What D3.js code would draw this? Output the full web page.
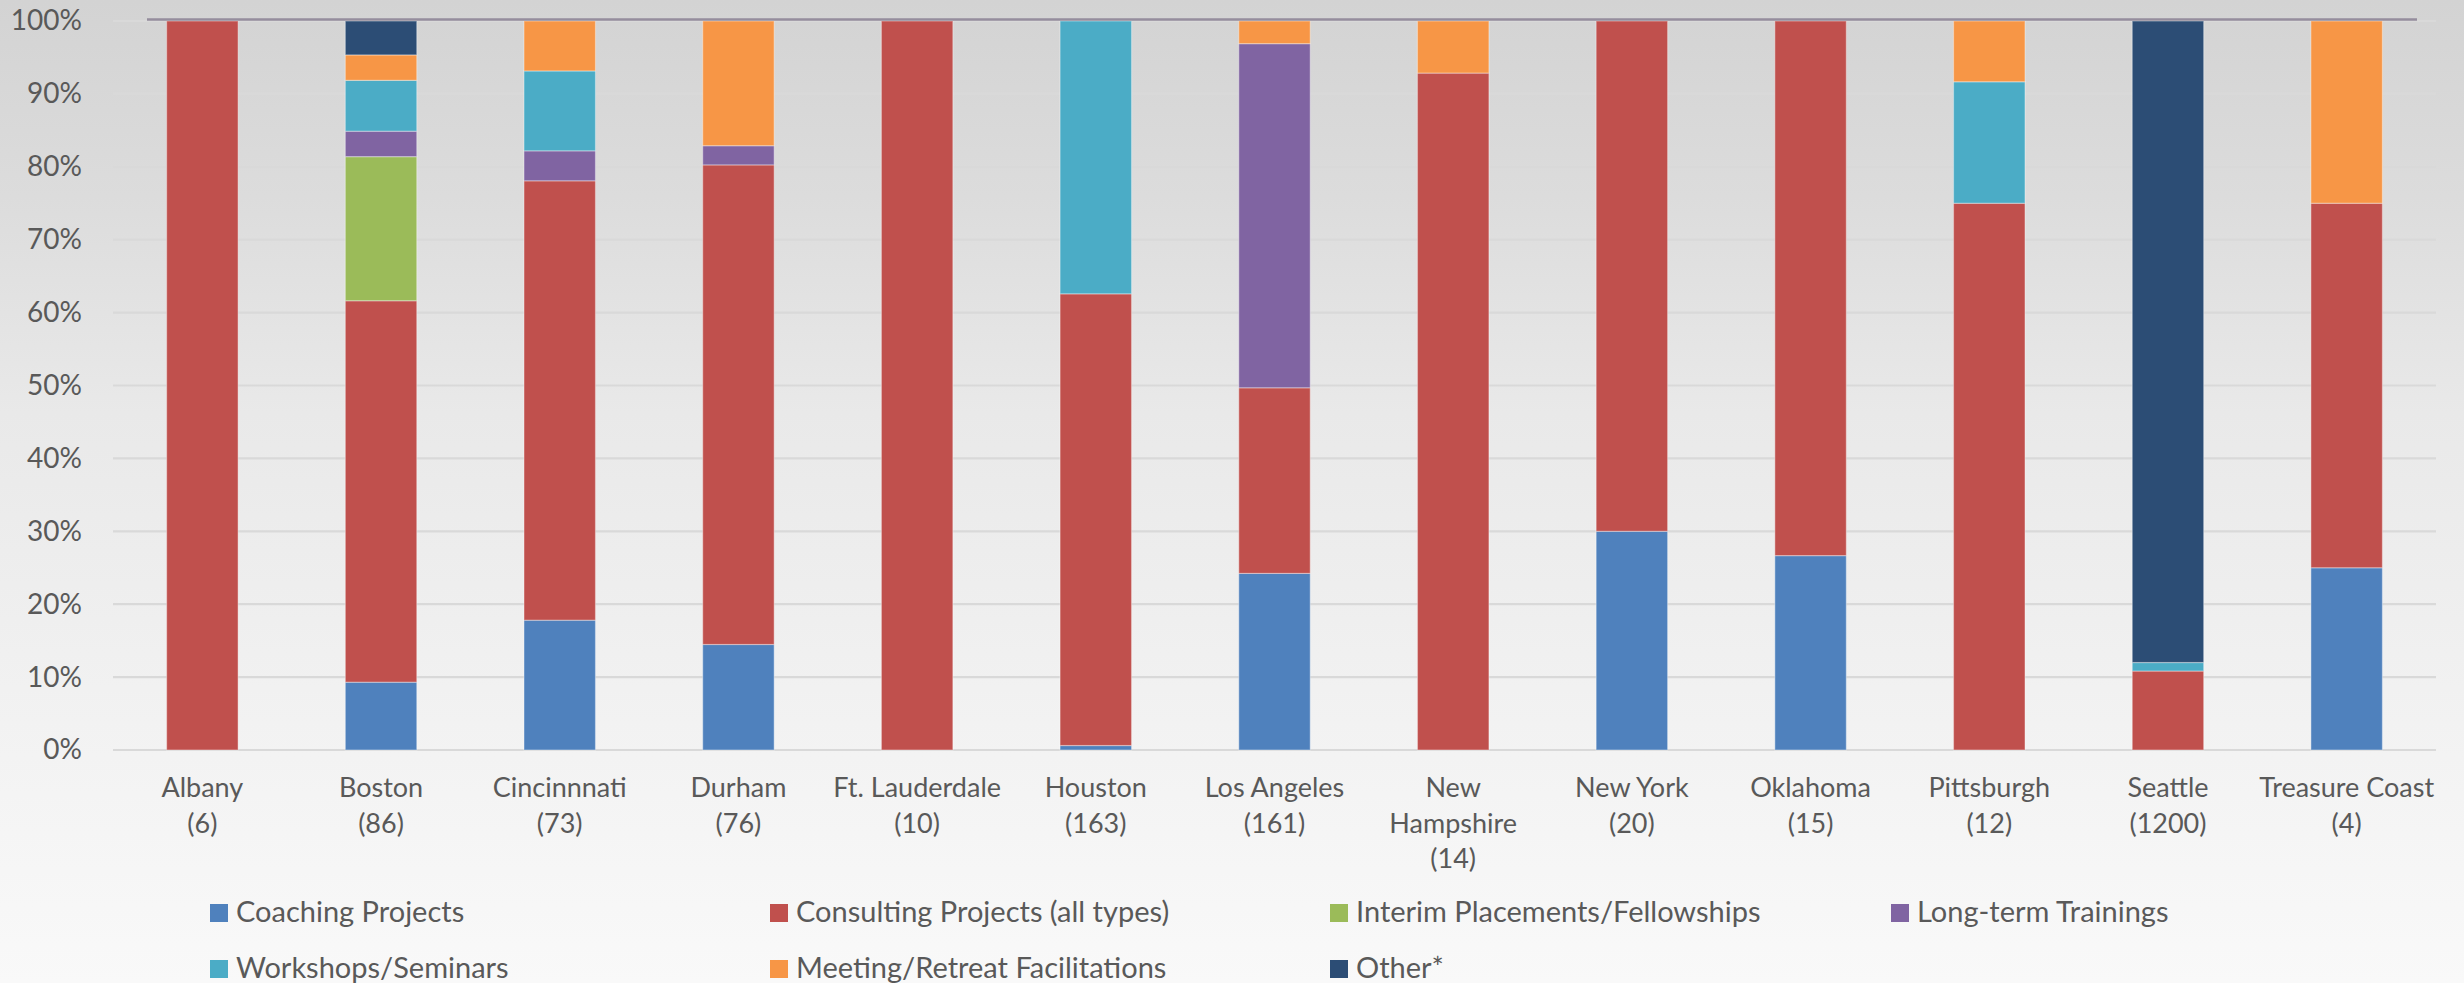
<!DOCTYPE html>
<html>
<head>
<meta charset="utf-8">
<script src="https://cdn.jsdelivr.net/npm/d3@7"></script>
<style>
  html, body { margin: 0; padding: 0; background: #f8f8f8; }
  svg { display: block; }
  text { font-family: Lato, "Open Sans", sans-serif; fill: #595959; }
</style>
</head>
<body>
<svg id="chart" width="2464" height="983"></svg>
<script>
// Offices and the number of engagements at each
const categories = ["Albany", "Boston", "Cincinnnati", "Durham", "Ft. Lauderdale", "Houston",
  "Los Angeles", "New Hampshire", "New York", "Oklahoma", "Pittsburgh", "Seattle", "Treasure Coast"];
const categoryLines = [["Albany"], ["Boston"], ["Cincinnnati"], ["Durham"], ["Ft. Lauderdale"], ["Houston"],
  ["Los Angeles"], ["New", "Hampshire"], ["New York"], ["Oklahoma"], ["Pittsburgh"], ["Seattle"], ["Treasure Coast"]];
const totals = [6, 86, 73, 76, 10, 163, 161, 14, 20, 15, 12, 1200, 4];

// Engagement counts per service type, one value per office
const coaching   = [0, 8, 13, 11, 0, 1, 39, 0, 6, 4, 0, 0, 1];
const consulting = [6, 45, 44, 50, 10, 101, 41, 13, 14, 11, 9, 130, 2];
const interim    = [0, 17, 0, 0, 0, 0, 0, 0, 0, 0, 0, 0, 0];
const longTerm   = [0, 3, 3, 2, 0, 0, 76, 0, 0, 0, 0, 0, 0];
const workshops  = [0, 6, 8, 0, 0, 61, 0, 0, 0, 0, 2, 14, 0];
const meetings   = [0, 3, 5, 13, 0, 0, 5, 1, 0, 0, 1, 0, 1];
const other      = [0, 4, 0, 0, 0, 0, 0, 0, 0, 0, 0, 1056, 0];

const seriesNames = ["Coaching Projects", "Consulting Projects (all types)", "Interim Placements/Fellowships",
  "Long-term Trainings", "Workshops/Seminars", "Meeting/Retreat Facilitations", "Other*"];
const seriesValues = [coaching, consulting, interim, longTerm, workshops, meetings, other];
const seriesColors = ["#4f81bd", "#c0504d", "#9bbb59", "#8064a2", "#4bacc6", "#f79646", "#2c4d75"];

const yTicks = [0, 0.1, 0.2, 0.3, 0.4, 0.5, 0.6, 0.7, 0.8, 0.9, 1];

// Rows for the stack layout
const rows = categories.map((c, i) => {
  const r = { category: c };
  seriesNames.forEach((s, k) => { r[s] = seriesValues[k][i]; });
  return r;
});

const svg = d3.select("#chart");
const W = 2464, H = 983;
const plot = { left: 113, right: 2436, top: 21, bottom: 750 };

// Background gradient
const defs = svg.append("defs");
const grad = defs.append("linearGradient").attr("id", "bg").attr("x1", 0).attr("y1", 0).attr("x2", 0).attr("y2", 1);
[[0, "#d3d3d3"], [0.2, "#dcdcdc"], [0.42, "#e9e9e9"], [0.77, "#f3f3f3"], [1, "#f9f9f9"]]
  .forEach(([o, c]) => grad.append("stop").attr("offset", o).attr("stop-color", c));
svg.append("rect").attr("width", W).attr("height", H).attr("fill", "url(#bg)");

const x = d3.scaleBand().domain(categories).range([plot.left, plot.right])
  .paddingInner(0.6).paddingOuter(0.3);
const y = d3.scaleLinear().domain([0, 1]).range([plot.bottom, plot.top]);
const color = d3.scaleOrdinal().domain(seriesNames).range(seriesColors);

// Gridlines
svg.append("g").selectAll("line").data(yTicks).join("line")
  .attr("x1", plot.left).attr("x2", plot.right)
  .attr("y1", d => y(d)).attr("y2", d => y(d))
  .attr("stroke", "#d9d9d9").attr("stroke-width", 2.2);

// Y axis labels
const yAxis = d3.axisLeft(y).tickValues(yTicks).tickFormat(d3.format(".0%")).tickSize(0).tickPadding(0);
const yg = svg.append("g").attr("transform", "translate(82,0)").call(yAxis);
yg.select(".domain").remove();
yg.selectAll("text").style("font-size", "28px").attr("fill", "#595959").attr("font-family", null);

// Stacked bars (share of each office's total)
const stacked = d3.stack().keys(seriesNames).offset(d3.stackOffsetExpand)(rows);
svg.append("g").selectAll("g").data(stacked).join("g")
  .attr("fill", d => color(d.key))
  .selectAll("rect").data(d => d.filter(p => p[1] - p[0] > 0)).join("rect")
  .attr("x", d => x(d.data.category))
  .attr("width", x.bandwidth())
  .attr("y", d => y(d[1]))
  .attr("height", d => y(d[0]) - y(d[1]))
  .attr("stroke", "rgba(255,255,255,0.35)")
  .attr("stroke-width", 1.2);

// Top border line of the plot
svg.append("line")
  .attr("x1", 147).attr("x2", 2417).attr("y1", 19.5).attr("y2", 19.5)
  .attr("stroke", "#958d9d").attr("stroke-width", 2.5);

// Category labels with counts
const xl = svg.append("g");
categories.forEach((c, i) => {
  const lines = categoryLines[i].concat(["(" + totals[i] + ")"]);
  const t = xl.append("text")
    .attr("x", x(c) + x.bandwidth() / 2)
    .attr("y", 797)
    .attr("text-anchor", "middle")
    .style("font-size", "27px");
  lines.forEach((ln, j) => {
    t.append("tspan").attr("x", x(c) + x.bandwidth() / 2).attr("y", 797 + j * 35.5).text(ln);
  });
});

// Legend
const legendPos = [[210, 904], [770, 904], [1330, 904], [1891, 904], [210, 960], [770, 960], [1330, 960]];
const lg = svg.append("g").selectAll("g").data(seriesNames).join("g")
  .attr("transform", (d, i) => `translate(${legendPos[i][0]},${legendPos[i][1]})`);
lg.append("rect").attr("width", 18).attr("height", 18).attr("fill", d => color(d));
lg.append("text").attr("x", 26).attr("y", 18).style("font-size", "29px").text(d => d);
</script>
</body>
</html>
